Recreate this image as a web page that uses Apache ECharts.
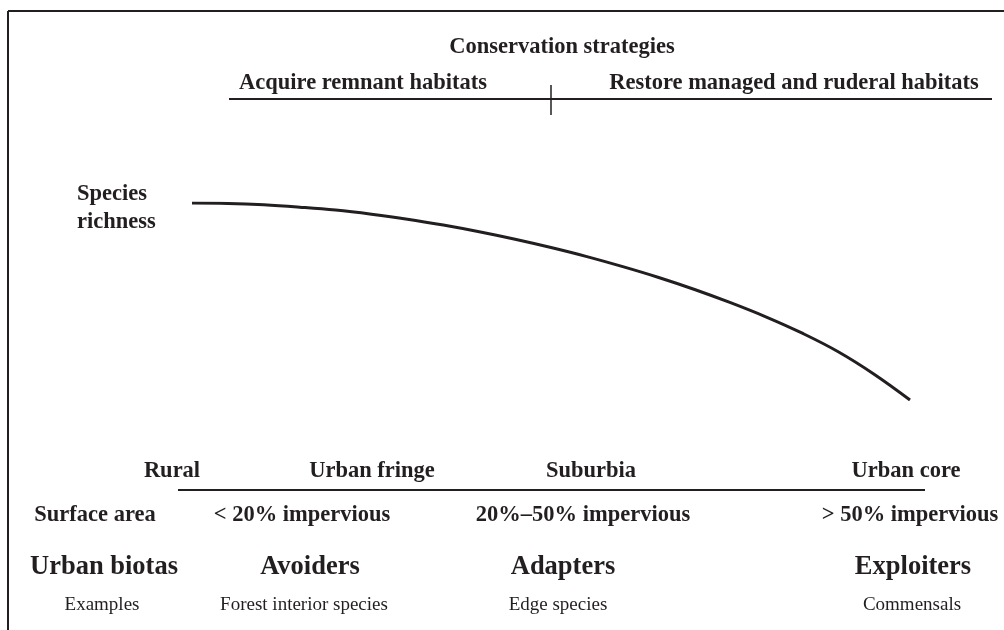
<!DOCTYPE html>
<html>
<head>
<meta charset="utf-8">
<script src="https://cdn.jsdelivr.net/npm/echarts@6/dist/echarts.min.js"></script>
<style>
html,body{margin:0;padding:0;background:#fff;}
#chart{width:1004px;height:630px;}
</style>
</head>
<body>
<div id="chart"></div>
<script>
// Urbanization gradient (0 = rural, 1 = urban core) and relative species richness
const gradient = [0, 0.05, 0.1, 0.15, 0.2, 0.25, 0.3, 0.35, 0.4, 0.45, 0.5,
                  0.55, 0.6, 0.65, 0.7, 0.75, 0.8, 0.85, 0.9, 0.95, 1];
const richness = [100, 99.8, 99.1, 97.9, 96.4, 94.3, 91.8, 88.8, 85.4, 81.6, 77.4,
                  72.8, 67.7, 62.2, 56.1, 49.4, 42.1, 33.9, 24.5, 13.1, 0];

const strategyTitle = 'Conservation strategies';
const strategies = ['Acquire remnant habitats', 'Restore managed and ruderal habitats'];
const yLabel = ['Species', 'richness'];
const zones = ['Rural', 'Urban fringe', 'Suburbia', 'Urban core'];
const surfaceRow = ['Surface area', '< 20% impervious', '20%\u201350% impervious', '> 50% impervious'];
const biotaRow = ['Urban biotas', 'Avoiders', 'Adapters', 'Exploiters'];
const exampleRow = ['Examples', 'Forest interior species', 'Edge species', 'Commensals'];

const INK = '#231f20';
const SERIF = '"Liberation Serif", "Times New Roman", serif';

function txt(text, x, y, font, align) {
  return {
    type: 'text', x: x, y: y, silent: true,
    style: { text: text, font: font, fill: INK, align: align || 'center', verticalAlign: 'middle' }
  };
}
function ln(x1, y1, x2, y2, w) {
  return { type: 'line', silent: true, shape: { x1: x1, y1: y1, x2: x2, y2: y2 }, style: { stroke: INK, lineWidth: w || 2 } };
}

const B22 = 'bold 22.5px ' + SERIF;
const B26 = 'bold 26.5px ' + SERIF;
const R19 = '19px ' + SERIF;

const zoneX = [172, 372, 591, 906];
const surfX = [95, 302, 583, 910];
const biotaX = [104, 310, 563, 913];
const exX = [102, 304, 558, 912];

const graphics = [
  ln(8, 11, 1004, 11, 2),
  ln(8, 11, 8, 630, 2),
  txt(strategyTitle, 562, 47, B22),
  txt(strategies[0], 363, 83, B22),
  txt(strategies[1], 794, 83, B22),
  ln(229, 99, 992, 99, 2),
  ln(551, 85, 551, 115, 1.5),
  txt(yLabel[0], 77, 194, B22, 'left'),
  txt(yLabel[1], 77, 222, B22, 'left'),
  ln(178, 490, 925, 490, 2)
];
zones.forEach((t, i) => graphics.push(txt(t, zoneX[i], 471, B22)));
surfaceRow.forEach((t, i) => graphics.push(txt(t, surfX[i], 515, B22)));
biotaRow.forEach((t, i) => graphics.push(txt(t, biotaX[i], 567, B26)));
exampleRow.forEach((t, i) => graphics.push(txt(t, exX[i], 605, R19)));

const chart = echarts.init(document.getElementById('chart'), null, { renderer: 'canvas' });
chart.setOption({
  animation: false,
  backgroundColor: '#ffffff',
  grid: { left: 192, right: 94, top: 203, bottom: 230 },
  xAxis: { type: 'value', min: 0, max: 1, show: false },
  yAxis: { type: 'value', min: 0, max: 100, show: false },
  series: [{
    type: 'line',
    data: gradient.map((g, i) => [g, richness[i]]),
    smooth: 0.4,
    showSymbol: false,
    lineStyle: { color: INK, width: 3 }
  }],
  graphic: graphics
});
</script>
</body>
</html>
